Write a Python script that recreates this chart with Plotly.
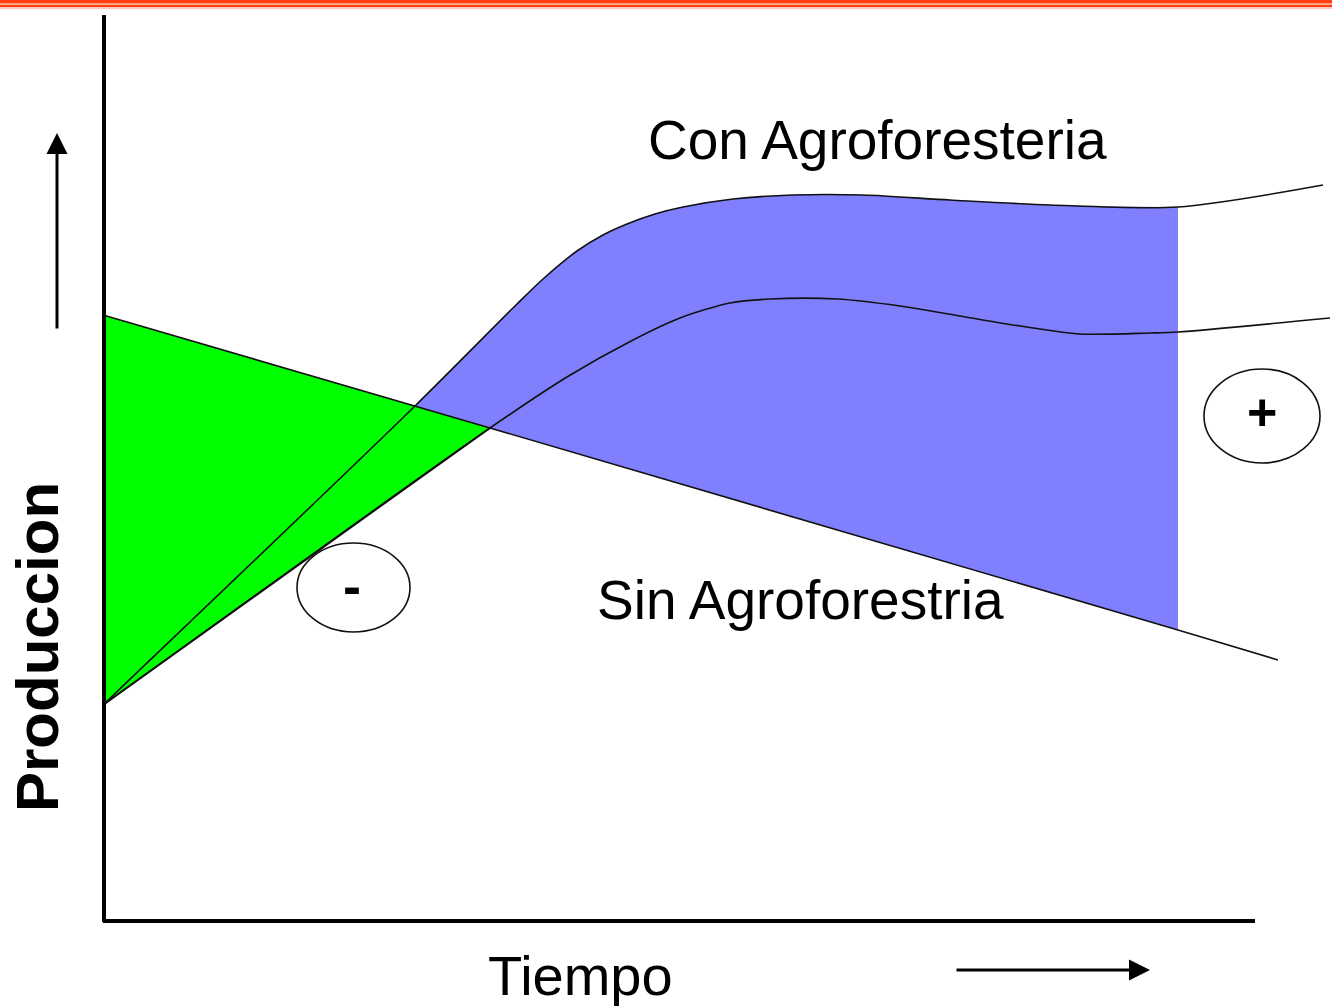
import plotly.graph_objects as go

# Tiempo (t) y Produccion (p), en unidades del diagrama (origen = cruce de ejes)
sin_t = [0, 312, 387, 1075, 1175]
sin_p = [605, 514, 492, 290, 260]

con_t = [0, 312, 414, 440, 474, 500, 524, 552, 580, 630, 690, 760, 847, 947, 1075, 1220]
con_p = [215, 514, 616, 641, 669, 685, 696, 706, 713, 721, 725, 725, 720, 715, 713, 735]

media_t = [0, 387, 464, 530, 577, 627, 667, 734, 797, 857, 917, 977, 1047, 1075, 1227]
media_p = [215, 492, 543, 580, 602, 617, 621, 621, 614, 604, 594, 586, 587, 588, 602]

verde_t = [0, 387]
verde_p = [215, 492]

GREEN = "#00FF00"
BLUE = "#8080FF"
LINE = "#111111"

fig = go.Figure()

# zona verde (perdida inicial)
fig.add_trace(go.Scatter(x=sin_t[:3], y=sin_p[:3], mode="lines",
                         line=dict(width=0), hoverinfo="skip"))
fig.add_trace(go.Scatter(x=verde_t, y=verde_p, mode="lines", fill="tonexty",
                         fillcolor=GREEN, line=dict(width=0), hoverinfo="skip"))

# zona azul (ganancia)
fig.add_trace(go.Scatter(x=sin_t[1:4], y=sin_p[1:4], mode="lines",
                         line=dict(width=0), hoverinfo="skip"))
fig.add_trace(go.Scatter(x=con_t[1:15], y=con_p[1:15], mode="lines", fill="tonexty",
                         fillcolor=BLUE, line=dict(width=0, shape="spline", smoothing=0.8),
                         hoverinfo="skip"))

# lineas
fig.add_trace(go.Scatter(x=sin_t, y=sin_p, mode="lines",
                         line=dict(color=LINE, width=1.6), hoverinfo="skip"))
fig.add_trace(go.Scatter(x=verde_t, y=verde_p, mode="lines",
                         line=dict(color=LINE, width=1.6), hoverinfo="skip"))
for xs, ys in [(con_t, con_p), (media_t, media_p)]:
    fig.add_trace(go.Scatter(x=xs, y=ys, mode="lines",
                             line=dict(color=LINE, width=1.6, shape="spline", smoothing=0.8),
                             hoverinfo="skip"))

# ejes
fig.add_shape(type="line", x0=1, x1=1, y0=-2, y1=905, line=dict(color="black", width=4))
fig.add_shape(type="line", x0=0, x1=1152, y0=-1, y1=-1, line=dict(color="black", width=4))

# elipses
fig.add_shape(type="circle", x0=194, x1=307, y0=288, y1=377, line=dict(color=LINE, width=1.6))
fig.add_shape(type="circle", x0=1101, x1=1217, y0=457, y1=551, line=dict(color=LINE, width=1.6))

# barra superior
fig.add_shape(type="rect", x0=-103, x1=1229, y0=911, y1=920, fillcolor="#FFC8B8", line_width=0)
fig.add_shape(type="rect", x0=-103, x1=1229, y0=913, y1=920, fillcolor="#FF4010", line_width=0)
fig.add_shape(type="rect", x0=-103, x1=1229, y0=915, y1=916.8, fillcolor="#FFB090", line_width=0)

font = dict(family="Liberation Sans, Arial, sans-serif", color="black")

fig.add_annotation(x=774, y=780, text="Con Agroforesteria", showarrow=False,
                   font=dict(size=55, **font), xanchor="center", yanchor="middle")
fig.add_annotation(x=697, y=320, text="Sin Agroforestria", showarrow=False,
                   font=dict(size=55, **font), xanchor="center", yanchor="middle")
fig.add_annotation(x=477, y=-55, text="Tiempo", showarrow=False,
                   font=dict(size=56, **font), xanchor="center", yanchor="middle")
fig.add_annotation(x=-66, y=273, text="<b>Produccion</b>", showarrow=False, textangle=-90,
                   font=dict(size=60, **font), xanchor="center", yanchor="middle")
fig.add_annotation(x=249, y=334, text="<b>-</b>", showarrow=False,
                   font=dict(size=54, **font), xanchor="center", yanchor="middle")
fig.add_annotation(x=1159, y=508, text="<b>+</b>", showarrow=False,
                   font=dict(size=52, **font), xanchor="center", yanchor="middle")

# flechas
fig.add_annotation(x=-46, y=787, ax=-46, ay=590, axref="x", ayref="y", text="",
                   showarrow=True, arrowhead=2, arrowsize=1.4, arrowwidth=3, arrowcolor="black")
fig.add_annotation(x=1047, y=-50, ax=852, ay=-50, axref="x", ayref="y", text="",
                   showarrow=True, arrowhead=2, arrowsize=1.4, arrowwidth=3, arrowcolor="black")

fig.update_layout(
        width=1332,
        height=1006,
        margin=dict(l=0, r=0, t=0, b=0),
        paper_bgcolor="white",
        plot_bgcolor="white",
        showlegend=False,
        xaxis=dict(range=[-103, 1229], visible=False, fixedrange=True),
        yaxis=dict(range=[-86, 920], visible=False, fixedrange=True),
        )

fig.write_html("out.html", config={"displayModeBar": False},
               post_script="document.body.style.margin='0';document.body.style.overflow='hidden';")
